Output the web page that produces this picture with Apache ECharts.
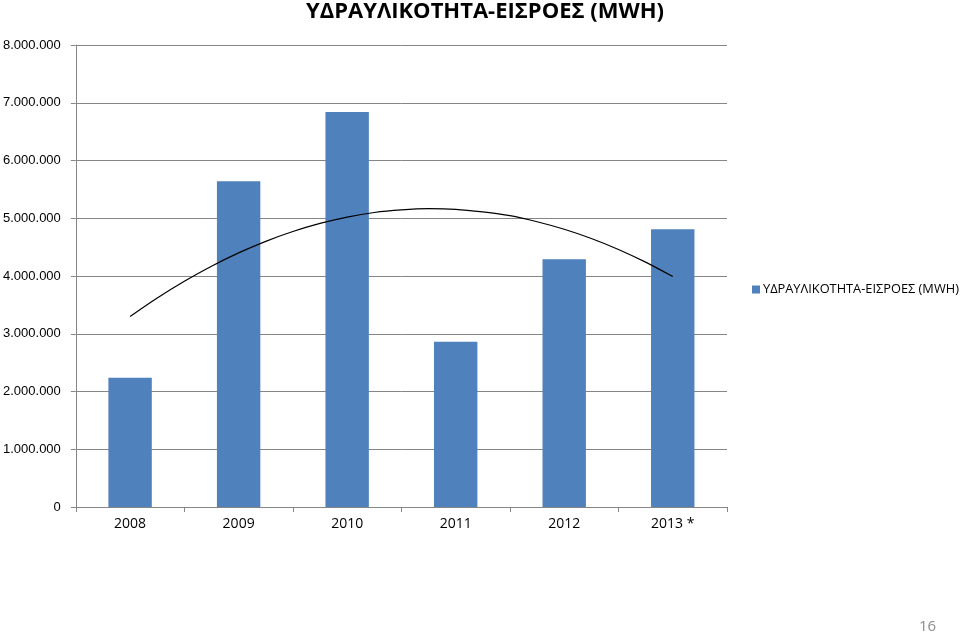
<!DOCTYPE html>
<html>
<head>
<meta charset="utf-8">
<script src="https://cdn.jsdelivr.net/npm/echarts@6/dist/echarts.min.js"></script>
<style>
html,body{margin:0;padding:0;background:#fff;}
#c{width:960px;height:636px;}
</style>
</head>
<body>
<div id="c"></div>
<script>
const categories = ['2008', '2009', '2010', '2011', '2012', '2013 *'];
const inflows = [2240000, 5640000, 6840000, 2860000, 4290000, 4810000];
// trend curve at quarter-category steps (x = category index)
const trendX = [0, 0.25, 0.5, 0.75, 1, 1.25, 1.5, 1.75, 2, 2.25, 2.5, 2.75, 3, 3.25, 3.5, 3.75, 4, 4.25, 4.5, 4.75, 5];
const trendY = [3300000, 3620000, 3910000, 4170000, 4400000, 4600000, 4770000, 4910000, 5020000, 5100000, 5145000,
                5165000, 5155000, 5110000, 5045000, 4940000, 4810000, 4650000, 4460000, 4240000, 3990000];
const yTicks = [0, 1000000, 2000000, 3000000, 4000000, 5000000, 6000000, 7000000, 8000000];
const seriesName = 'ΥΔΡΑΥΛΙΚΟΤΗΤΑ-ΕΙΣΡΟΕΣ (MWH)';

function fmt(v) {
  if (v === 0) return '0';
  return String(Math.round(v)).replace(/\B(?=(\d{3})+(?!\d))/g, '.');
}

const chart = echarts.init(document.getElementById('c'));
const gridLeft = 72, gridTop = 45, gridRight = 960 - 727, gridBottom = 636 - 507;
chart.setOption({
  animation: false,
  title: {
    text: seriesName,
    left: 480, top: -4, textAlign: 'center',
    textStyle: {fontFamily: 'Open Sans, Lato, sans-serif', fontWeight: 'bold', fontSize: 22, color: '#000'}
  },
  legend: {
    data: [{name: seriesName, icon: 'rect'}],
    orient: 'vertical',
    left: 747, top: 278,
    itemWidth: 8, itemHeight: 8, itemGap: 5,
    textStyle: {fontFamily: 'Open Sans, Lato, sans-serif', fontSize: 12.8, color: '#000', padding: [0, 0, 0, -2]}
  },
  graphic: [{
    type: 'text', left: 919, top: 619,
    style: {text: '16', fill: '#8c8c8c', font: '15px "Open Sans", sans-serif'}
  }],
  grid: {left: gridLeft, top: gridTop, right: gridRight, bottom: gridBottom, containLabel: false},
  xAxis: [{
    type: 'category',
    data: categories,
    axisLine: {lineStyle: {color: '#868686', width: 1}},
    axisTick: {show: true, alignWithLabel: false, length: 5, lineStyle: {color: '#868686'}},
    axisLabel: {fontFamily: 'Open Sans, Lato, sans-serif', fontSize: 14, color: '#000', margin: 10}
  }, {
    type: 'value', show: false, min: -0.5, max: 5.5
  }],
  yAxis: {
    type: 'value', min: 0, max: 8000000, interval: 1000000,
    axisLine: {show: true, onZero: false, lineStyle: {color: '#868686', width: 1}},
    axisTick: {show: true, length: 5, lineStyle: {color: '#868686'}},
    splitLine: {show: true, lineStyle: {color: '#868686', width: 1}},
    axisLabel: {
      fontFamily: 'Liberation Sans, Arial, sans-serif', fontSize: 13, color: '#000', margin: 15,
      formatter: function (v) { return yTicks.indexOf(v) >= 0 ? fmt(v) : ''; }
    }
  },
  series: [{
    name: seriesName,
    type: 'bar',
    data: inflows,
    barWidth: '40%',
    itemStyle: {color: '#4F81BD'}
  }, {
    name: 'trend',
    type: 'line',
    xAxisIndex: 1,
    data: trendX.map((x, i) => [x, trendY[i]]),
    smooth: 0.3,
    symbol: 'none',
    lineStyle: {color: '#000', width: 1.2},
    silent: true
  }]
});
</script>
</body>
</html>
